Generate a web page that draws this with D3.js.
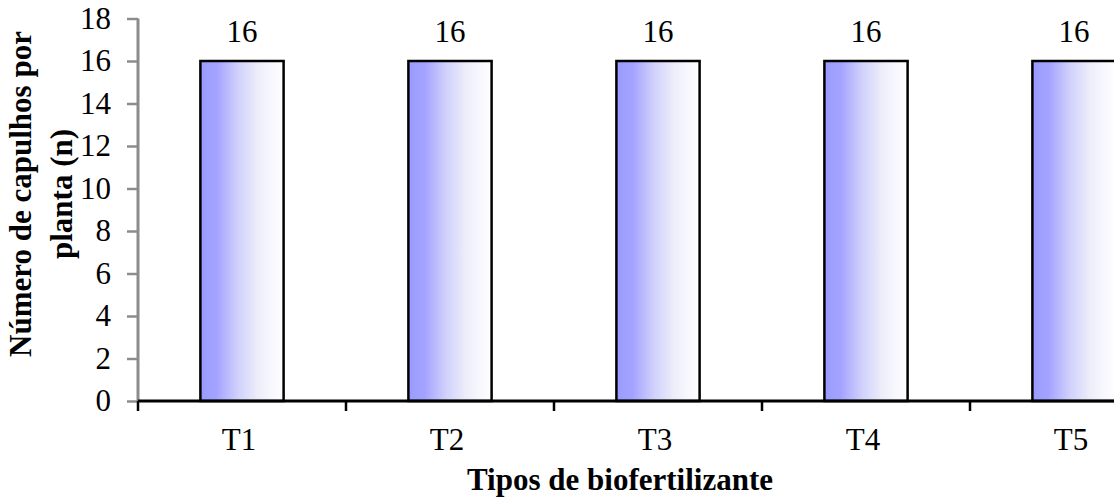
<!DOCTYPE html>
<html>
<head>
<meta charset="utf-8">
<script src="https://cdn.jsdelivr.net/npm/d3@7"></script>
<style>
  html, body { margin: 0; padding: 0; background: #fff; overflow: hidden; }
  svg { display: block; font-family: "Liberation Serif", "Times New Roman", serif; }
</style>
</head>
<body>
<svg id="chart" width="1114" height="497"></svg>
<script>
// Número de capulhos por planta para cada tipo de biofertilizante
const categories = ["T1", "T2", "T3", "T4", "T5"];
const values = [16, 16, 16, 16, 16];
const yTicks = [0, 2, 4, 6, 8, 10, 12, 14, 16, 18];
const yTitleLines = ["Número de capulhos por", "planta (n)"];
const xTitle = "Tipos de biofertilizante";

const svg = d3.select("#chart");
const plot = { left: 138, top: 18.5, bottom: 401, step: 208 };

const x = d3.scaleBand()
  .domain(categories)
  .range([plot.left, plot.left + plot.step * categories.length])
  .paddingInner(0.6)
  .paddingOuter(0.3);

const y = d3.scaleLinear()
  .domain([0, 18])
  .range([plot.bottom, plot.top]);

// horizontal gradient used to fill each bar
const defs = svg.append("defs");
const grad = defs.append("linearGradient")
  .attr("id", "barFill")
  .attr("x1", "0%").attr("x2", "100%").attr("y1", "0%").attr("y2", "0%");
[
  [0, "#9a9aff"], [0.2, "#a4a4ff"], [0.45, "#d0d0fc"], [0.7, "#eeeefb"], [1, "#ffffff"]
].forEach(([o, c]) => grad.append("stop").attr("offset", o).attr("stop-color", c));

// y axis (grey)
const yAxis = svg.append("g")
  .attr("transform", `translate(${plot.left},0)`)
  .call(d3.axisLeft(y).tickValues(yTicks).tickSize(11).tickPadding(16).tickFormat(d3.format("d")));
yAxis.attr("font-family", null).attr("font-size", null);
yAxis.select(".domain").attr("stroke", "#8c8c8c").attr("stroke-width", 3)
  .attr("d", `M0,${plot.top}V${plot.bottom}`);
yAxis.selectAll(".tick line").attr("stroke", "#8c8c8c").attr("stroke-width", 2.5);
yAxis.selectAll(".tick text")
  .attr("fill", "#000")
  .style("font-size", "31px");

// bars
svg.append("g").selectAll("rect")
  .data(categories)
  .join("rect")
  .attr("x", d => x(d))
  .attr("y", (d, i) => y(values[i]))
  .attr("width", x.bandwidth())
  .attr("height", (d, i) => y(0) - y(values[i]))
  .attr("fill", "url(#barFill)")
  .attr("stroke", "#000")
  .attr("stroke-width", 2.5);

// value labels
svg.append("g").selectAll("text")
  .data(categories)
  .join("text")
  .attr("x", d => x(d) + x.bandwidth() / 2)
  .attr("y", (d, i) => y(values[i]) - 19)
  .attr("text-anchor", "middle")
  .style("font-size", "31px")
  .text((d, i) => values[i]);

// x axis (black) with ticks between categories
const xAxis = svg.append("g");
xAxis.append("line")
  .attr("x1", plot.left).attr("x2", x.range()[1])
  .attr("y1", y(0)).attr("y2", y(0))
  .attr("stroke", "#000").attr("stroke-width", 3);
const bounds = categories.map(c => x(c) - x.paddingOuter() * x.step()).concat([x.range()[1]]);
xAxis.selectAll("line.sep")
  .data(bounds)
  .join("line")
  .attr("class", "sep")
  .attr("x1", d => d).attr("x2", d => d)
  .attr("y1", y(0)).attr("y2", y(0) + 10)
  .attr("stroke", "#000").attr("stroke-width", 2.5);
xAxis.selectAll("text")
  .data(categories)
  .join("text")
  .attr("x", d => x(d) + x.bandwidth() / 2 - 3)
  .attr("y", 450)
  .attr("text-anchor", "middle")
  .style("font-size", "31px")
  .text(d => d);

// axis titles
svg.append("text")
  .attr("x", 620)
  .attr("y", 490)
  .attr("text-anchor", "middle")
  .style("font-size", "31px")
  .style("font-weight", "bold")
  .text(xTitle);

const yTitle = svg.append("text")
  .attr("transform", "translate(31,194) rotate(-90)")
  .attr("text-anchor", "middle")
  .style("font-size", "31px")
  .style("font-weight", "bold");
yTitleLines.forEach((line, i) => {
  yTitle.append("tspan")
    .attr("x", 0)
    .attr("dy", i === 0 ? 0 : 41)
    .text(line);
});
</script>
</body>
</html>
